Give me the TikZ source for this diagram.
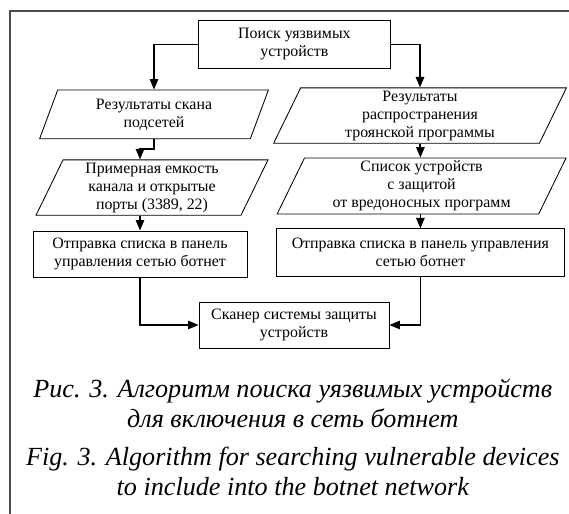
\documentclass[tikz,border=0pt]{standalone}
\usepackage{fontspec}
\setmainfont{Liberation Serif}
\usepackage{tikz}
\usetikzlibrary{shapes.geometric, arrows.meta, positioning, calc}
\definecolor{framegray}{RGB}{75, 75, 75}

\begin{document}
\begin{tikzpicture}[
    base/.style={draw, line width=0.6pt, fill=white, align=center, inner sep=2pt, font=\fontsize{11.3pt}{12.8pt}\selectfont},
    procbox/.style={base, rectangle},
    iobox/.style={base, trapezium, trapezium left angle=64, trapezium right angle=116, trapezium stretches body},
    arrow/.style={-{Triangle[length=7.5pt, width=6pt]}, line width=1.1pt},
    capt/.style={align=center, font=\fontsize{18.6pt}{21.5pt}\selectfont\itshape}
]
    \useasboundingbox (0, 0) rectangle (14.225, -12.85);

    % --- FRAME ---
    \draw[framegray, line width=1.4pt] (0.25, -12.85) -- (0.25, -0.275) -- (14.225, -0.275);

    % --- TOP: SEARCH ---
    \node[procbox, minimum width=4.78cm, minimum height=1.18cm] (search) at (7.36, -1.11) {Поиск уязвимых\\ устройств};

    % --- INPUT DATA ---
    \node[iobox, minimum width=5.72cm, minimum height=1.22cm] (scanres) at (3.85, -2.86) {Результаты скана\\ подсетей};
    \node[iobox, minimum width=7.32cm, minimum height=1.27cm] (spread) at (10.5, -2.89) {Результаты\\ распространения\\ троянской программы};

    \draw[arrow] (search.west) -| (scanres.north);
    \draw[arrow] (search.east) -| (spread.north);

    \node[iobox, minimum width=5.8cm, minimum height=1.32cm] (capacity) at (3.8, -4.69) {Примерная емкость\\ канала и открытые\\ порты (3389, 22)};
    \node[iobox, minimum width=7.22cm, minimum height=1.2cm] (protected) at (10.54, -4.65) {Список устройств\\ с защитой\\ от вредоносных программ};

    % --- SENDING TO THE PANEL ---
    \node[procbox, minimum width=5.35cm, minimum height=1.15cm] (sendL) at (3.5, -6.35) {Отправка списка в панель\\ управления сетью ботнет};
    \node[procbox, minimum width=7.22cm, minimum height=1.18cm] (sendR) at (10.51, -6.31) {Отправка списка в панель управления\\ сетью ботнет};

    \draw[arrow] (scanres.south) -- ++(0, -0.25) -| (capacity.north -| sendL.north);
    \draw[arrow] (spread.south) -- ++(0, -0.25) -| (protected.north -| sendR.north);
    \draw[arrow] (sendL.north |- capacity.south) -- (sendL.north);
    \draw[arrow] (sendR.north |- protected.south) -- (sendR.north);

    % --- BOTTOM: SCANNER ---
    \node[procbox, minimum width=4.75cm, minimum height=1.15cm] (scanner) at (7.35, -8.125) {Сканер системы защиты\\ устройств};

    \draw[arrow] (sendL.south) |- (scanner.west);
    \draw[arrow] (sendR.south) |- (scanner.east);

    % --- CAPTION ---
    \node[capt] (capru) at (7.32, -10.075) {Рис. 3. Алгоритм поиска уязвимых устройств\\ для включения в сеть ботнет};
    \node[capt] (capen) at (7.32, -11.79) {Fig. 3. Algorithm for searching vulnerable devices\\ to include into the botnet network};

\end{tikzpicture}
\end{document}
